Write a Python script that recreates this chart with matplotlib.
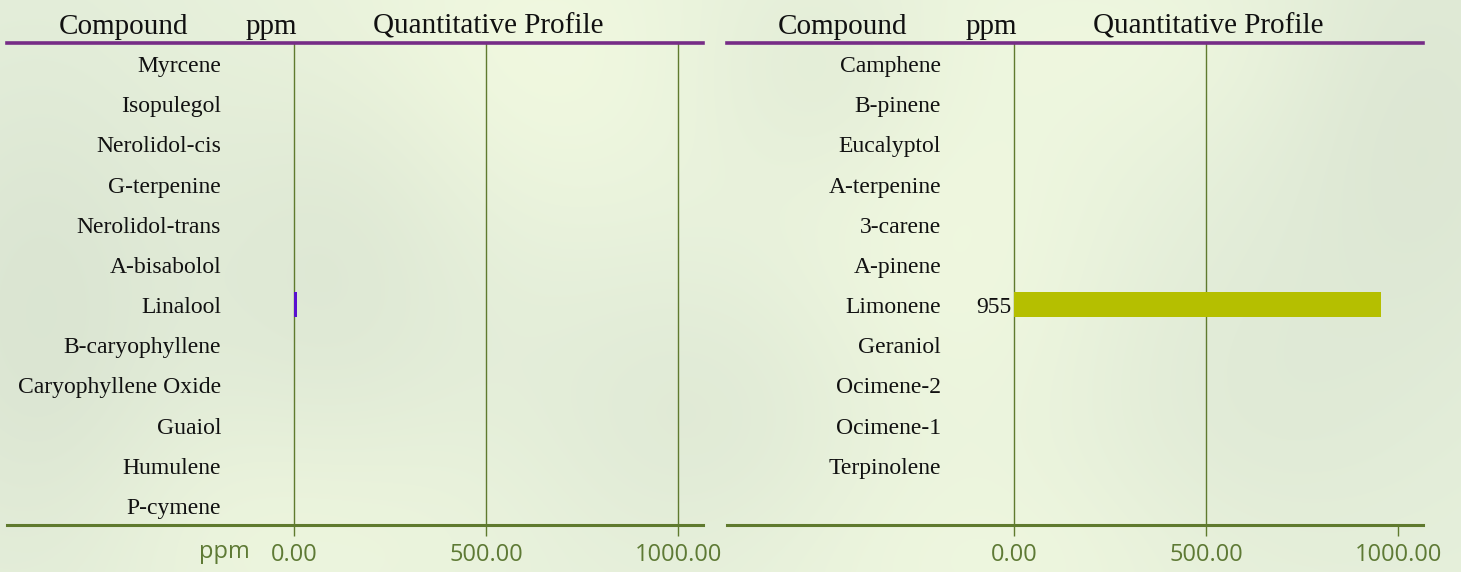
import numpy as np
import matplotlib
matplotlib.use("Agg")
import matplotlib.pyplot as plt
from matplotlib.transforms import blended_transform_factory, offset_copy

# ---------------- data ----------------
left_compounds = ["Myrcene", "Isopulegol", "Nerolidol-cis", "G-terpenine", "Nerolidol-trans",
                  "A-bisabolol", "Linalool", "B-caryophyllene", "Caryophyllene Oxide",
                  "Guaiol", "Humulene", "P-cymene"]
left_values = [0, 0, 0, 0, 0, 0, 7, 0, 0, 0, 0, 0]
left_colors = ["#5A10D0"] * 12

right_compounds = ["Camphene", "B-pinene", "Eucalyptol", "A-terpenine", "3-carene", "A-pinene",
                   "Limonene", "Geraniol", "Ocimene-2", "Ocimene-1", "Terpinolene"]
right_values = [0, 0, 0, 0, 0, 0, 955, 0, 0, 0, 0]
right_colors = ["#B5BF00"] * 11
right_value_labels = ["", "", "", "", "", "", "955", "", "", "", ""]

tick_values = [0, 500, 1000]
tick_labels = ["0.00", "500.00", "1000.00"]
left_grid = [0, 500, 1000]
right_grid = [0, 500]
headers = ["Compound", "ppm", "Quantitative Profile"]

# ---------------- figure ----------------
W, H = 1461, 572
DPI = 100
fig = plt.figure(figsize=(W / DPI, H / DPI), dpi=DPI)

# soft blurred background
yy, xx = np.mgrid[0:H, 0:W].astype(float)
base = np.array([0.90, 0.94, 0.86])
light = np.array([0.95, 0.98, 0.88])
dark = np.array([0.83, 0.87, 0.80])
img = np.ones((H, W, 3)) * base
def blob(cx, cy, sx, sy, col, a):
    g = np.exp(-(((xx - cx) / sx) ** 2 + ((yy - cy) / sy) ** 2))[..., None] * a
    return g, col
for cx, cy, sx, sy, col, a in [
    (500, 60, 260, 200, light, 0.9), (950, 250, 200, 300, light, 0.8),
    (1150, 40, 250, 120, light, 0.6), (300, 520, 260, 140, light, 0.7),
    (1000, 560, 300, 120, light, 0.6), (40, 320, 140, 260, dark, 0.6),
    (330, 260, 160, 220, dark, 0.45), (700, 420, 180, 160, dark, 0.35),
    (1420, 120, 150, 250, dark, 0.5), (820, 70, 120, 120, dark, 0.3),
    (1250, 400, 180, 200, dark, 0.3)]:
    g, c = blob(cx, cy, sx, sy, col, a)
    img = img * (1 - g) + c * g
bg = fig.add_axes([0, 0, 1, 1], zorder=-10)
bg.imshow(img, aspect="auto", extent=[0, W, H, 0])
bg.axis("off")

PURPLE = "#762C86"
OLIVE = "#5F7A2E"
TICKC = "#5E7A35"
SERIF = "Liberation Serif"
SANS = "Open Sans"
LABEL_FS = 17
HEADER_FS = 21
TICK_FS = 17

xmin, xmax = -747, 1064

def panel(x0px, compounds, values, colors, grid, vlabels=None, ppm_label=False):
    ax = fig.add_axes([x0px / W, (H - 525) / H, 696 / W, 482 / H])
    ax.patch.set_alpha(0)
    n = 12
    ax.set_xlim(xmin, xmax)
    ax.set_ylim(n - 0.5, -0.5)
    y = np.arange(len(compounds))
    ax.barh(y, values, height=0.62, color=colors, zorder=3)
    for g in grid:
        ax.axvline(g, color=OLIVE, lw=1.0, zorder=2)
    tr = offset_copy(ax.transData, fig=fig, x=0, y=-2.5, units="points")
    for i, c in enumerate(compounds):
        ax.text(-190, i, c, ha="right", va="center", family=SERIF, fontsize=LABEL_FS,
                color="#111111", transform=tr)
        if vlabels and vlabels[i]:
            ax.text(-8, i, vlabels[i], ha="right", va="center",
                    family=SERIF, fontsize=LABEL_FS, color="#111111", transform=tr)
    for s in ["left", "right"]:
        ax.spines[s].set_visible(False)
    ax.spines["top"].set_color(PURPLE)
    ax.spines["top"].set_linewidth(2.6)
    ax.spines["bottom"].set_color(OLIVE)
    ax.spines["bottom"].set_linewidth(2.2)
    ax.set_yticks([])
    ax.set_xticks(tick_values)
    ax.set_xticklabels(tick_labels, family=SANS, fontsize=TICK_FS, color=TICKC)
    ax.tick_params(axis="x", length=8, width=1.0, color=OLIVE, pad=5)
    if ppm_label:
        ax.text(-115, -0.056, "ppm", transform=blended_transform_factory(ax.transData, ax.transAxes),
                ha="right", va="center", family=SANS, fontsize=TICK_FS, color=TICKC)
    # headers
    for txt, xc in zip(headers, [123, 271, 488]):
        fig.text((x0px - 7 + xc) / W, (H - 27) / H, txt, ha="center", va="center",
                 family=SERIF, fontsize=HEADER_FS, color="#111111")
    return ax

panel(7, left_compounds, left_values, left_colors, left_grid, ppm_label=True)
panel(727, right_compounds, right_values, right_colors, right_grid, vlabels=right_value_labels)

fig.savefig("out.png", dpi=DPI)
